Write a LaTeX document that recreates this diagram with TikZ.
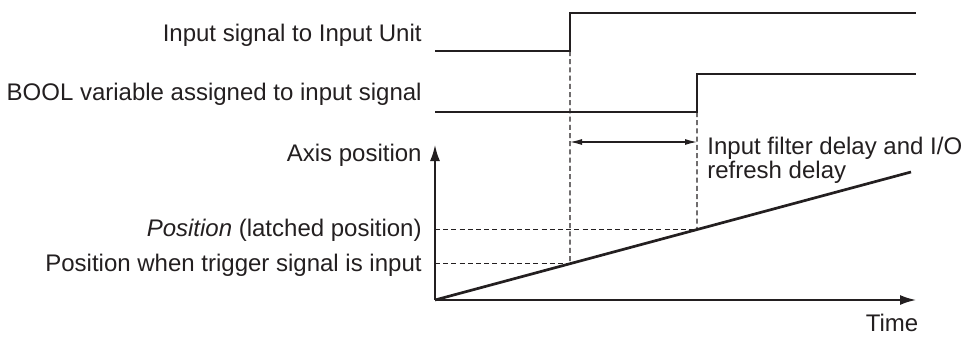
\documentclass[tikz,border=0pt]{standalone}
\usepackage{fontspec}
\setmainfont{Liberation Sans}
\usetikzlibrary{arrows.meta,calc,positioning}
\definecolor{chartInk}{RGB}{35,31,32}
\tikzset{
  sigtext/.style={anchor=base east, inner sep=0pt, text=chartInk,
    font=\fontsize{12}{12}\selectfont},
  signal/.style={line width=1.35pt, draw=chartInk},
  guide/.style={dash pattern=on 2.5pt off 1.6pt, line width=0.55pt, draw=chartInk},
  axis/.style={-{Latex[length=8pt,width=5pt]}, line width=0.9pt, draw=chartInk},
  span/.style={{Latex[length=6pt,width=3pt]}-{Latex[length=6pt,width=3pt]}, line width=0.55pt, draw=chartInk}
}

\begin{document}
\begin{tikzpicture}[x=0.5pt,y=-0.5pt]
    \useasboundingbox (0,0) rectangle (965,338);
    \node[sigtext] (inunit) at (422,41) {Input signal to Input Unit};
    \node[sigtext] (boolvar) at (422,100) {BOOL variable assigned to input signal};
    \node[sigtext] (axispos) at (422,161) {Axis position};
    \node[sigtext] (latched) at (422,236) {\textit{Position} (latched position)};
    \node[sigtext] (trigpos) at (422,271) {Position when trigger signal is input};
    \node[sigtext, anchor=base] (timelbl) at (892,331) {Time};
    \node[sigtext, anchor=base west, align=left] (delaytxt) at (707,178) {Input filter delay and I/O\\refresh delay};
    % input signal and BOOL variable
    \coordinate (s1a) at (435,51);
    \coordinate (s1b) at (570,51);
    \coordinate (s1c) at (570,13);
    \coordinate (s1d) at (916,13);
    \coordinate (s2a) at (435,112);
    \coordinate (s2b) at (697,112);
    \coordinate (s2c) at (697,74);
    \coordinate (s2d) at (916,74);
    \draw[signal] (s1a) -- (s1b) -- (s1c) -- (s1d);
    \draw[signal] (s2a) -- (s2b) -- (s2c) -- (s2d);
    % axes and position ramp
    \coordinate (origin) at (435,300);
    \coordinate (ytip) at (435,145);
    \coordinate (xtip) at (916,300);
    \coordinate (rampend) at (911,172);
    \coordinate (trig) at ($(origin)!{135/476}!(rampend)$);
    \coordinate (latch) at ($(origin)!{262/476}!(rampend)$);
    \draw[axis] (origin) -- (ytip);
    \draw[axis] (origin) -- (xtip);
    \draw[signal] (origin) -- (rampend);
    \draw[guide] (s1b) -- (trig);
    \draw[guide] (s2b) -- (latch);
    \draw[guide] (origin |- trig) -- (trig);
    \draw[guide] (origin |- latch) -- (latch);
    \coordinate (spanl) at (570,142);
    \coordinate (spanr) at (697,142);
    \draw[span] (spanl) -- (spanr);
  \end{tikzpicture}
\end{document}
